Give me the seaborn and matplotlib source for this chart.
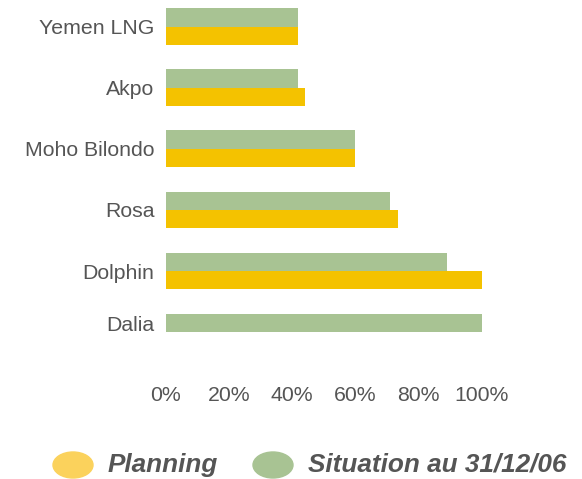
import pandas as pd
import numpy as np
import matplotlib
matplotlib.use("Agg")
import matplotlib.pyplot as plt
from matplotlib.patches import Ellipse
from matplotlib.transforms import ScaledTranslation
import seaborn as sns

# data (share of completion)
projects = ["Yemen LNG", "Akpo", "Moho Bilondo", "Rosa", "Dolphin", "Dalia"]
planning = [0.42, 0.44, 0.60, 0.735, 1.00, np.nan]
situation = [0.42, 0.42, 0.60, 0.71, 0.89, 1.00]
series_names = ["Planning", "Situation au 31/12/06"]
xticks = [0, 0.2, 0.4, 0.6, 0.8, 1.0]
xtick_labels = ["0%", "20%", "40%", "60%", "80%", "100%"]

#long format table for seaborn
df = pd.DataFrame({
    "project": projects * 2,
    "value": situation + planning,
    "series": [series_names[1]] * len(projects) + [series_names[0]] * len(projects),
})

bar_colors = {series_names[0]: "#F4C200", series_names[1]: "#A8C393"}
legend_colors = {series_names[0]: "#FBD25C", series_names[1]: "#A8C393"}
text_color = "#555555"

sns.set_style("white")
plt.rcParams["font.family"] = ["Liberation Sans", "DejaVu Sans"]

fig = plt.figure(figsize=(5.82, 4.79), dpi=100)
ax = fig.add_axes([0.2844, 0.2171, 0.5438, 0.7722])

sns.barplot(data=df, y="project", x="value", hue="series", order=projects,
            hue_order=[series_names[1], series_names[0]], palette=bar_colors,
            width=0.6, orient="h", saturation=1, linewidth=0, legend=False, ax=ax)

ax.set_xlim(0, 1.0)
ax.set_ylim(5.7, -0.35)
ax.set_xticks(xticks)
ax.set_xticklabels(xtick_labels)
ax.set_xlabel("")
ax.set_ylabel("")
ax.tick_params(axis="both", length=0, labelsize=15.3, colors=text_color)
ax.tick_params(axis="x", pad=8)
ax.tick_params(axis="y", pad=8)
sns.despine(ax=ax, left=True, bottom=True)

# Dalia label sits a bit higher in the original (single bar row)
dalia_label = ax.get_yticklabels()[-1]
dalia_label.set_transform(dalia_label.get_transform() +
                          ScaledTranslation(0, 0.09, fig.dpi_scale_trans))

#custom legend with ellipse markers
W, H = 582, 479
legend_items = [(series_names[0], 73, 108), (series_names[1], 273, 308)]
for name, cx, tx in legend_items:
    fig.patches.append(Ellipse((cx / W, 1 - 465 / H), 40 / W, 26 / H,
                               transform=fig.transFigure, color=legend_colors[name]))
    fig.text(tx / W, 1 - 465 / H, name, fontsize=18.8, fontweight="bold",
             fontstyle="italic", color=text_color, va="center", ha="left")

fig.savefig("out.png", dpi=100)
